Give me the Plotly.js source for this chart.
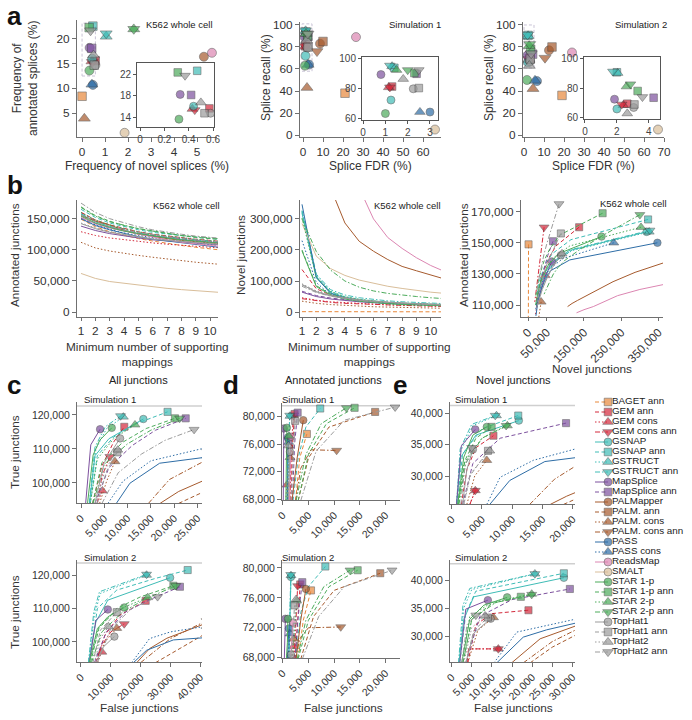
<!DOCTYPE html>
<html><head><meta charset="utf-8">
<script src="https://cdn.plot.ly/plotly-3.0.1.min.js"></script>
<style>html,body{margin:0;padding:0;background:#fff}#chart{width:692px;height:720px}</style>
</head><body><div id="chart"></div>
<script>
// ---------------- methods & styles ----------------
const methods = ["BAGET ann","GEM ann","GEM cons","GEM cons ann","GSNAP","GSNAP ann","GSTRUCT","GSTRUCT ann","MapSplice","MapSplice ann","PALMapper","PALM. ann","PALM. cons","PALM. cons ann","PASS","PASS cons","ReadsMap","SMALT","STAR 1-p","STAR 1-p ann","STAR 2-p","STAR 2-p ann","TopHat1","TopHat1 ann","TopHat2","TopHat2 ann"];
const methodColors = ["#e8883b","#d3293b","#d3293b","#d3293b","#3fbcb6","#3fbcb6","#3fbcb6","#3fbcb6","#7d519e","#7d519e","#a65a2d","#a65a2d","#a65a2d","#a65a2d","#2e6da6","#2e6da6","#dc86b2","#d9be9a","#4cab5b","#4cab5b","#4cab5b","#4cab5b","#9b9b9b","#9b9b9b","#9b9b9b","#9b9b9b"];
const methodSymbols = ["square","square","triangle-up","triangle-down","circle","square","triangle-up","triangle-down","circle","square","circle","square","triangle-up","triangle-down","circle","triangle-up","circle","circle","circle","square","triangle-up","triangle-down","circle","square","triangle-up","triangle-down"];
const methodDashes = ["dash","dash","dot","dashdot","solid","dash","dot","dashdot","solid","dash","solid","dash","dot","dashdot","solid","dot","solid","solid","solid","dash","dot","dashdot","solid","dash","dot","dashdot"];

// ---------------- panel a (percent) ----------------
const aK562Novel = [0.0,0.57,0.43,0.45,0.44,0.47,1.05,1.05,0.33,0.42,5.3,null,0.1,null,0.47,0.43,5.65,1.85,0.32,0.31,2.25,2.25,0.58,0.53,0.5,0.37];
const aK562Annot = [8.4,15.6,15.5,15.3,16.0,22.6,20.5,21.1,18.2,18.1,16.4,null,3.9,null,10.7,10.8,17.2,1.0,13.6,22.3,22.0,22.0,14.7,14.7,16.7,21.7];
const aSim1FDR    = [21,1.3,1.15,1.2,1.25,1.4,1.3,1.2,0.8,2.4,8.5,10,2,7,3.0,2.55,26.5,66,1.0,2.3,1.5,2.0,2.25,2.5,1.8,2.5];
const aSim1Recall = [38,81,80.5,80.5,72,93.5,94.5,95,89,89.5,83,85,43,76,64,64,89,5,63,90,92,92,79.5,80,86,92];
const aSim2FDR    = [19,2.65,2.4,2.3,2.0,2.0,2.05,1.75,1.85,4.3,12.5,14,4.5,10.5,6.5,5.5,24,67,1.5,3.3,2.6,2.85,3.05,3.1,2.65,3.6];
const aSim2Recall = [36,69.5,68.5,69,66,90.5,90,91,72.5,73.5,77,80,42,70,49,49.5,75,5,50,78,81,82.5,67,69,63,74];

// ---------------- panel b (thousands of junctions) ----------------
const bMinSupport = [1,2,3,4,5,6,7,8,9,10,11];
const bTickVals = [1,2,3,4,5,6,7,8,9,10];
const bAnnot = [
 [149,137,129,123,118,114,110,107,104,101,99],
 [160,148,140,134,129,125,122,119,117,115,113],
 [129,123,119,116,113,111,109,107,105,104,103],
 [160,147,139,133,128,124,121,118,116,114,112],
 [157,145,137,131,126,122,119,116,114,112,110],
 [165,152,143,137,132,128,125,122,120,118,116],
 [157,145,137,131,127,123,120,117,115,113,111],
 [158,146,138,132,127,123,120,118,116,114,112],
 [138,131,126,122,119,116,114,112,110,109,108],
 [151,142,135,130,126,123,120,117,115,113,111],
 [155,146,140,131,125,121,118,115,113,111,109],
 null,
 [112,103,98,94,91,88,85,82,80,78,76],
 null,
 [150,139,132,126,121,117,114,111,108,105,103],
 [150,140,133,127,123,119,116,113,110,108,106],
 [152,142,135,130,125,120,116,112,109,107,105],
 [62,54,49,46,43,41,38,36,34,32,31],
 [154,143,136,130,126,122,119,116,114,112,110],
 [169,155,146,139,134,130,126,123,120,118,116],
 [160,148,140,134,129,125,122,119,117,115,113],
 [168,154,145,139,134,130,126,123,121,119,117],
 [142,134,128,124,120,117,115,113,111,109,108],
 [156,145,138,132,128,124,121,118,116,114,112],
 [143,135,129,125,121,118,116,114,112,110,109],
 [175,160,150,143,137,132,128,125,122,120,118]
];
const bNovel = [
 [1.2,1.1,1.0,0.9,0.9,0.8,0.8,0.7,0.7,0.7,0.7],
 [137,75,55,45,38,33,30,27,25,23,22],
 [46,38,33,30,27,25,23,22,21,20,19],
 [43,36,31,28,26,24,22,21,20,19,18],
 [318,110,62,46,38,33,29,27,25,23,22],
 [322,115,65,48,40,34,30,28,26,24,23],
 [325,118,67,50,41,35,31,28,26,24,23],
 [327,122,72,55,46,40,36,33,30,28,27],
 [64,50,42,37,33,30,28,26,24,23,22],
 [67,53,45,39,35,32,29,27,26,24,23],
 [900,560,400,287,228,196,169,147,133,118,106],
 null,
 [35,28,24,21,19,17,16,15,14,13,12],
 null,
 [347,112,60,45,37,32,28,26,24,22,21],
 [230,95,55,42,35,30,27,25,23,21,20],
 [1500,1000,700,520,400,300,240,205,175,150,130],
 [285,180,140,118,103,92,83,76,69,64,60],
 [197,82,55,42,35,30,27,24,22,21,20],
 [200,85,58,44,37,32,28,26,24,22,21],
 [303,112,66,49,41,35,31,29,27,25,24],
 [300,195,135,100,80,68,60,54,50,46,43],
 [88,65,52,44,38,34,31,28,26,24,23],
 [88,66,53,45,39,35,31,29,27,25,24],
 [91,68,54,45,39,35,32,29,27,25,24],
 [83,63,51,43,37,33,30,28,26,24,23]
];

// ---------------- panels c, d, e (thousands; false vs true junctions) ----------------
const cSim1False = [null,[2.5,4.5,7,9.3],[3.5,4.6],[3.5,4.5,6.2],[1.8,3.0,6.0,13.4],[2.0,3.5,7,12,18.6],[1.9,3.2,5.5,9.1],[1.8,3.0,5.2,8.5],[1.0,2.1,4.1],[3,6,11,16,22.5],[17,21,27],[21,24,27],[4,5.5,7.3],[14.5,19,27],[7.6,10.5,16.9,27],[5.8,9,15,27],null,null,[1.4,2.6,4.0,6.6],[2.5,4.5,9,14,20.2],[2.0,3.5,7,11.6],[2.6,5,10,15,21.2],[3.0,5,8.4],[3.5,5.5,7.8],[3.2,5.2,7.9],[4.5,8,13,18,24.3]];
const cSim1True  = [null,[94,105,112,116.5],[94,97.7],[94,102,107.7],[94,108,113,118.8],[94,108,113.5,117.5,120.9],[94,110,116,119.4],[94,110.5,116.5,119.7],[94,111.2,115.8],[94,104.5,111,115.5,119],[94,97.5,101.1],[94,96,97.8],[94,100.5,106.3],[94,101,106.8],[94,99.9,105.8,107.6],[94,100.5,106.5,110.4],null,null,[94,108.2,112.5,116.2],[94,106,112,116,119],[94,107,113,117.1],[94,105.5,111.5,115.5,119],[94,106,113.1],[94,103.5,109],[94,104,109.7],[94,103,108.5,112.5,115.7]];
const cSim2False = [null,[5,8,13,21.7],[5.5,7],[5,7,10,14.5],[2.5,5.0,9.0,29.9],[2.8,5.5,12,25,35.8],[2.5,4.5,6.5,22],[2.5,4.3,6.2,22],[2.8,5.0,9.0],[4.5,8.5,15,24,33.2],[18.7,23,28.8,42],[25,32,42],[5.5,8,12],[20,30,42],[17.6,22,31,42],[17,23,30,42],null,null,[2.8,5.5,9,14.5],[3.2,6,12,20,31],[3,6,12,22.4],[3.5,7,14,22,31.8],[5,7.5,11.2],[4,6.5,12],[4.5,6.5,9.2],[5.5,10,17,25.7]];
const cSim2True  = [null,[93.8,102,108,112.3],[93.8,97],[93.8,99,103,105.4],[93.8,106,112.5,119.2],[93.8,110,115.5,119,121.5],[93.8,108,114.5,120],[93.8,109,115,120.2],[93.8,106.5,109.7],[93.8,103,109,113,116.5],[93.8,98,101.1,105.6],[93.8,97.5,102.6],[93.8,100,104.1],[93.8,101,106.3],[93.8,97.5,100.6,101.3],[93.8,101,103,104.7],null,null,[93.8,104,107.5,110.3],[93.8,104,110,113.5,116.8],[93.8,104.5,109.5,113.3],[93.8,103,109,113,116.8],[93.8,98.5,101.6],[93.8,103.5,108.9],[93.8,101,104.6],[93.8,104,110,113.5]];

const dSim1False = [[2.5,3.3,4.7],[1.6,1.9,2.3],[0.6,0.8],[1.4,1.7,2.1],[0.8,0.9,1.0],[2.0,3.0,4.5,7.3],[0.9,1.1,1.4],[0.9,1.1,1.35],[0.1,0.15,0.2],[1.9,2.3,2.9],[1.8,2.8,4.0],[3.0,5.0,9.0,18.0],[1.0,1.2,1.4],[2.5,3.5,5.5,10.5],[0.9,1.0,1.1],[0.9,1.0,1.15],[1.3,1.5,1.6],null,[0.6,0.7,0.8],[3.0,5.0,8.5,14.0],[0.9,1.0,1.2],[2.6,4.5,7.5,12.4],[1.1,1.3,1.4],[1.6,2.0,2.4],[1.0,1.1,1.1],[3.5,6.5,12.0,21.9]];
const dSim1True  = [[67.8,74,77.5],[67.8,76,80.4],[67.8,70.1],[67.8,76,80.2],[67.8,74,77.0],[67.8,74,78.5,81.2],[67.8,76,80.1],[67.8,76,80.2],[67.8,74,78.3],[67.8,76,80.6],[67.8,74,79.5],[67.8,74,78.5,80.7],[67.8,71,74.1],[67.8,72.5,75.2,75.1],[67.8,73,76.8],[67.8,72,76.3],[67.8,72,77.1],null,[67.8,74,78.4],[67.8,74.5,79,81.3],[67.8,73,77.2],[67.8,74.5,79,81.3],[67.8,71,74.9],[67.8,74,79.4],[67.8,72,75.8],[67.8,75,79.5,81.4]];
const dSim2False = [[3.0,4.0,5.5],[2.4,2.9,3.4],[1.8,2.1],[2.2,2.6,2.9],[1.2,1.4,1.6],[2.5,3.5,5.0,8.3],[1.2,1.4,1.6],[1.2,1.4,1.55],[0.3,0.4,0.5],[2.4,3.0,3.8],[2.6,3.5,4.5],[3.5,6.0,10.0,19.0],[1.6,1.9,2.1],[2.5,3.3,5.0,11.3],[0.9,1.1,1.2],[1.0,1.2,1.4],[1.5,1.8,2.0],null,[0.7,0.9,1.0],[3.0,5.0,9.0,14.6],[1.9,2.3,2.7],[2.8,4.5,8.0,13.1],[1.4,1.5,1.6],[1.6,2.0,2.3],[1.7,2.2,2.6],[3.8,7.0,12.0,21.3]];
const dSim2True  = [[67.8,73,77.0],[67.8,73.5,77.8],[67.8,69.5],[67.8,73,77.6],[67.8,74,78.8],[67.8,74,77.5,80.2],[67.8,74,79.0],[67.8,74,79.1],[67.8,70,73.2],[67.8,73.5,78.1],[67.8,73,77.2],[67.8,73.5,77,79.3],[67.8,69,70.5],[67.8,70.5,72.0,72.1],[67.8,70,71.9],[67.8,69.5,71.2],[67.8,70.5,72.7],null,[67.8,70,73.2],[67.8,73,77.5,79.7],[67.8,72,75.6],[67.8,73,77.5,79.7],[67.8,68.1,68.4],[67.8,71.5,75.0],[67.8,72,75.8],[67.8,73.5,77.5,79.7]];

const eSim1False = [null,[1.6,2.5,4.0,6.9],[3.0,3.9],[3.0,3.9],[0.8,1.5,4.0,11.1],[0.9,1.8,5.0,11.0],[0.8,1.5,3.5,7.4],[0.8,1.4,3.3,7.2],[0.8,1.6,3.9],[1.8,3.5,8.0,18.9],[16.3,19,22],[18.5,20,22],[2.5,3.8,5.8],[12.9,17,22],[6.3,9.6,15.4,22],[5.8,8.0,13.5,22],null,null,[1.0,2.0,3.5,5.8],[1.1,2.2,4.0,6.6],[1.0,2.0,5.0,9.2],[1.2,2.3,5.0,9.0],[1.8,2.5,3.5],[2.0,3.0,6.0],[2.0,3.2,6.3],[1.5,2.2,3.3]];
const eSim1True  = [null,[25.5,31,34.5,36.4],[25.5,27.7],[25.5,27.7],[25.5,33,36.5,38.8],[25.5,33.5,37.5,39.6],[25.5,34,38,39.6],[25.5,34.3,38.2,39.6],[25.5,34.8,37.4],[25.5,32,36,38.4],[25.5,26.8,28],[25.5,26.2,27],[25.5,30,32.5],[25.5,29.5,32.5],[25.5,29.3,32.3,33.1],[25.5,29.8,32.5,34.7],null,null,[25.5,33,36.5,37.8],[25.5,32.5,36,37.8],[25.5,32,36,38.0],[25.5,32,36,38.0],[25.5,31,34.2],[25.5,30,34.0],[25.5,30.5,34.0],[25.5,31.5,34.5]];
const eSim2False = [null,[4.0,6.0,10.0,19.1],[3.8,4.2,11.6],[3.8,4.2,11.6],[1.8,3.0,5.5,27.9],[2.0,3.5,6.0,27.9],[1.8,3.0,5.0,20.7],[1.7,2.8,4.5,20.7],[2.0,3.5,9.0],[3.5,7.0,15.0,29.4],[14.9,22,32],[19.5,25,32],[4.0,6.5,10.4],[17.8,25,32],[11.2,17.8,23.6,32],[10.5,16.2,32],null,null,[2.5,4.5,8.0,13.8],[2.8,5.0,10.0,17.2],[2.5,4.5,10.0,19.9],[2.8,5.0,11.0,19.9],[3.5,5.5,9.7],[3.5,5.5,9.0],[3.0,5.0,8.3],[2.5,3.8,6.0]];
const eSim2True  = [null,[25.2,32,34,34.6],[25.2,27.7,27.7],[25.2,27.7,27.7],[25.2,33,37,40.4],[25.2,34,38,41.2],[25.2,35,38.3,41.1],[25.2,35.5,38.5,41.1],[25.2,34.8,36.4],[25.2,33.5,36.5,38.4],[25.2,29.5,32.1],[25.2,28,30.6],[25.2,31,33.3],[25.2,29,31.5],[25.2,29.8,31.1,32.5],[25.2,30.7,33.2],null,null,[25.2,33,35.5,36.9],[25.2,33,35.8,37.0],[25.2,33.5,36,37.5],[25.2,33,36,37.4],[25.2,30.5,33.1],[25.2,31,33.3],[25.2,31.5,33.6],[25.2,32,33.7]];

// total true junctions in each simulation (thousands): grey reference lines
const totalTrue = {c1:122.6, c2:123.6, d1:81.6, d2:80.7, e1:41.2, e2:42.9};

// ---------------- tick labels ----------------
const b1TickVals = [0,50,100,150], b1TickText = ["0","50,000","100,000","150,000"];
const b2TickVals = [0,100,200,300], b2TickText = ["0","100,000","200,000","300,000"];
const b3XTickVals = [0,50,150,250,350], b3XTickText = ["0","50,000","150,000","250,000","350,000"];
const b3YTickVals = [110,130,150,170], b3YTickText = ["110,000","130,000","150,000","170,000"];
const cYTickVals = [100,110,120], cYTickText = ["100,000","110,000","120,000"];
const c1XTickVals = [0,5,10,15,20,25], c1XTickText = ["0","5,000","10,000","15,000","20,000","25,000"];
const c2XTickVals = [0,10,20,30,40], c2XTickText = ["0","10,000","20,000","30,000","40,000"];
const dYTickVals = [68,72,76,80], dYTickText = ["68,000","72,000","76,000","80,000"];
const dXTickVals = [0,5,10,15,20], dXTickText = ["0","5,000","10,000","15,000","20,000"];
const eYTickVals = [30,35,40], eYTickText = ["30,000","35,000","40,000"];
const e1XTickVals = [0,5,10,15,20], e1XTickText = ["0","5,000","10,000","15,000","20,000"];
const e2XTickVals = [0,5,10,15,20,25,30], e2XTickText = ["0","5,000","10,000","15,000","20,000","25,000","30,000"];

// ---------------- helpers ----------------
const FONT = '"Liberation Sans", Arial, Helvetica, sans-serif';
const W = 692, H = 720;
const pxD = (a,b)=>[a/W, b/W];
const pyD = (a,b)=>[1-b/H, 1-a/H];
const DASH = {solid:'solid', dash:'4px,2.5px', dot:'1.5px,2px', dashdot:'5px,2px,1.5px,2px'};
const AXC = '#707070';
const sfx = n => n===1 ? '' : String(n);
const symSize = (b,s) => s.indexOf('triangle')===0 ? b*1.15 : (s==='square' ? b*0.95 : b);

const traces = [], shapes = [], annotations = [];
const layout = {width:W, height:H, margin:{l:0,r:0,t:0,b:0}, paper_bgcolor:'#fff', plot_bgcolor:'rgba(0,0,0,0)',
  showlegend:false, font:{family:FONT, size:12, color:'#333'}, shapes:shapes, annotations:annotations};

function baseAxis(o){
  return Object.assign({showgrid:false, zeroline:false, showline:true, linecolor:AXC, linewidth:1,
    ticks:'outside', ticklen:4, tickwidth:1, tickcolor:AXC, tickfont:{family:FONT,size:11.8,color:'#333'}, fixedrange:true}, o);
}
function setAxes(n, xo, yo){
  layout['xaxis'+sfx(n)] = baseAxis(Object.assign({anchor:'y'+sfx(n)}, xo));
  layout['yaxis'+sfx(n)] = baseAxis(Object.assign({anchor:'x'+sfx(n)}, yo));
}

function scatterPanel(n, xs, ys, size){
  const idx = methods.map((m,i)=>i).filter(i=>xs[i]!==null && ys[i]!==null);
  traces.push({type:'scatter', mode:'markers', xaxis:'x'+sfx(n), yaxis:'y'+sfx(n),
    x: idx.map(i=>xs[i]), y: idx.map(i=>ys[i]),
    marker:{color: idx.map(i=>methodColors[i]), symbol: idx.map(i=>methodSymbols[i]),
      size: idx.map(i=>symSize(size, methodSymbols[i])), line:{color:'#333', width:0.6}},
    hoverinfo:'skip'});
}
function addCurve(n, x, y, i, markIdx, msize){
  const t = {type:'scatter', xaxis:'x'+sfx(n), yaxis:'y'+sfx(n), x:x, y:y, hoverinfo:'skip',
    line:{color:methodColors[i], width:1, dash:DASH[methodDashes[i]]}};
  if (markIdx === null) { t.mode = 'lines'; }
  else {
    const mi = markIdx < 0 ? x.length-1 : markIdx;
    t.mode = 'lines+markers';
    t.marker = {symbol:methodSymbols[i], color:methodColors[i],
      size: x.map((v,k)=> k===mi ? symSize(msize, methodSymbols[i]) : 0),
      line:{color:'#333', width: x.map((v,k)=> k===mi ? 0.6 : 0)}};
  }
  traces.push(t);
}
function curvePanel(n, xs, ys){
  methods.forEach((m,i)=>{ if (xs[i] && ys[i]) addCurve(n, xs[i], ys[i], i, -1, 7.5); });
}
function note(text, x, y, xanchor, size, extra){
  annotations.push(Object.assign({text:text, xref:'paper', yref:'paper', x:x/W, y:1-y/H, xanchor:xanchor, yanchor:'middle',
    showarrow:false, font:{family:FONT, size:size, color:'#222'}}, extra||{}));
}
function axTitle(text, x, y, vertical, size){
  annotations.push({text:text, xref:'paper', yref:'paper', x:x/W, y:1-y/H, xanchor:'center', yanchor:'middle',
    showarrow:false, textangle: vertical ? -90 : 0, font:{family:FONT, size:size||12, color:'#333'}});
}

// ---------------- panel a ----------------
const insetAx = (o) => Object.assign({mirror:true, linecolor:'#555', tickcolor:'#555', ticklen:3, tickfont:{family:FONT,size:10,color:'#444'}}, o);
setAxes(1, {domain:pxD(77,217), range:[-0.22,5.87], tickvals:[0,1,2,3,4,5]},
           {domain:pyD(20,137), range:[0.15,23.84], tickvals:[5,10,15,20]});
setAxes(2, insetAx({domain:pxD(137,214), range:[-0.025,0.608], tickvals:[0,0.2,0.4,0.6], ticktext:['0','0.2','0.4','0.6']}),
           insetAx({domain:pyD(63,127), range:[12.14,24.05], tickvals:[14,18,22]}));
setAxes(3, {domain:pxD(300,441), range:[-1.5,69], tickvals:[0,10,20,30,40,50,60]},
           {domain:pyD(22,137), range:[-1.8,102.7], tickvals:[0,20,40,60,80,100]});
setAxes(4, insetAx({domain:pxD(362,438), range:[-0.05,3.36], tickvals:[0,1,2,3]}),
           insetAx({domain:pyD(57,120), range:[58.7,100.7], tickvals:[60,80,100]}));
setAxes(5, {domain:pxD(523,664), range:[-0.5,70], tickvals:[0,10,20,30,40,50,60,70]},
           {domain:pyD(22,137), range:[-1.8,102.7], tickvals:[0,20,40,60,80,100]});
setAxes(6, insetAx({domain:pxD(584,660), range:[-0.06,4.7], tickvals:[0,2,4]}),
           insetAx({domain:pyD(57,119), range:[59.3,100.7], tickvals:[60,80,100]}));
const rectLine = {color:'#c9c3d6', width:1, dash:'3px,2px'};
shapes.push({type:'rect', xref:'x', yref:'y', x0:0.0, x1:0.58, y0:12.5, y1:23.2, line:rectLine, layer:'below'});
shapes.push({type:'rect', xref:'x3', yref:'y3', x0:-0.5, x1:4.5, y0:58, y1:101, line:rectLine, layer:'below'});
shapes.push({type:'rect', xref:'x5', yref:'y5', x0:0, x1:5, y0:61, y1:100, line:rectLine, layer:'below'});
scatterPanel(1, aK562Novel, aK562Annot, 9);
scatterPanel(2, aK562Novel, aK562Annot, 8);
scatterPanel(3, aSim1FDR, aSim1Recall, 9);
scatterPanel(4, aSim1FDR, aSim1Recall, 8);
scatterPanel(5, aSim2FDR, aSim2Recall, 9);
scatterPanel(6, aSim2FDR, aSim2Recall, 8);
axTitle('Frequency of novel splices (%)', 147, 166, false);
axTitle('Frequency of<br>annotated splices (%)', 25, 79, true);
axTitle('Splice FDR (%)', 370, 166, false);
axTitle('Splice recall (%)', 266, 78, true);
axTitle('Splice FDR (%)', 593, 166, false);
axTitle('Splice recall (%)', 489, 78, true);

// ---------------- panel b ----------------
setAxes(7, {domain:pxD(77,218), range:[0.72,10.55], tickvals:bTickVals, ticklen:3},
           {domain:pyD(200,317), range:[-8,180], tickvals:b1TickVals, ticktext:b1TickText});
setAxes(8, {domain:pxD(300,441), range:[0.86,10.72], tickvals:bTickVals, ticklen:3},
           {domain:pyD(200,317), range:[-16,361], tickvals:b2TickVals, ticktext:b2TickText});
setAxes(9, {domain:pxD(521,663), range:[-19,362], tickvals:b3XTickVals, ticktext:b3XTickText, tickangle:-45, ticklen:3},
           {domain:pyD(200,317), range:[102.3,177.5], tickvals:b3YTickVals, ticktext:b3YTickText});
methods.forEach((m,i)=>{ if (bAnnot[i]) addCurve(7, bMinSupport, bAnnot[i], i, null); });
methods.forEach((m,i)=>{ if (bNovel[i]) addCurve(8, bMinSupport, bNovel[i], i, null); });
methods.forEach((m,i)=>{ if (bNovel[i] && bAnnot[i]) addCurve(9, bNovel[i], bAnnot[i], i, 0, 7.5); });
axTitle('Minimum number of supporting<br>mappings', 147, 354, false, 11.8);
axTitle('Annotated junctions', 15, 255, true, 11.8);
axTitle('Minimum number of supporting<br>mappings', 369, 354, false, 11.8);
axTitle('Novel junctions', 241, 255, true, 11.8);
axTitle('Novel junctions', 592, 369, false, 11.8);
axTitle('Annotated junctions', 464, 255, true, 11.8);

// ---------------- panels c, d, e ----------------
const small = {family:FONT, size:10.5, color:'#333'};
setAxes(10, {domain:pxD(77,202), range:[-0.86,26.0], tickvals:c1XTickVals, ticktext:c1XTickText, tickangle:-45, tickfont:small},
            {domain:pyD(402,503), range:[94.1,123.8], tickvals:cYTickVals, ticktext:cYTickText, tickfont:small});
setAxes(11, {domain:pxD(77,202), range:[-1.34,40.6], tickvals:c2XTickVals, ticktext:c2XTickText, tickangle:-45, tickfont:small},
            {domain:pyD(560,662), range:[94.0,124.5], tickvals:cYTickVals, ticktext:cYTickText, tickfont:small});
setAxes(12, {domain:pxD(282,400), range:[-0.15,22.85], tickvals:dXTickVals, ticktext:dXTickText, tickangle:-45, tickfont:small},
            {domain:pyD(403,500), range:[67.9,82.0], tickvals:dYTickVals, ticktext:dYTickText, tickfont:small});
setAxes(13, {domain:pxD(282,400), range:[-0.15,22.85], tickvals:dXTickVals, ticktext:dXTickText, tickangle:-45, tickfont:small},
            {domain:pyD(560,658), range:[67.95,81.07], tickvals:dYTickVals, ticktext:dYTickText, tickfont:small});
setAxes(14, {domain:pxD(450,575), range:[-0.28,20.38], tickvals:e1XTickVals, ticktext:e1XTickText, tickangle:-45, tickfont:small},
            {domain:pyD(402,504), range:[25.56,41.75], tickvals:eYTickVals, ticktext:eYTickText, tickfont:small});
setAxes(15, {domain:pxD(450,575), range:[-0.42,30.67], tickvals:e2XTickVals, ticktext:e2XTickText, tickangle:-45, tickfont:small},
            {domain:pyD(560,662), range:[25.36,43.57], tickvals:eYTickVals, ticktext:eYTickText, tickfont:small});
[[10,'c1'],[11,'c2'],[12,'d1'],[13,'d2'],[14,'e1'],[15,'e2']].forEach(([n,k])=>{
  shapes.push({type:'line', xref:'x'+n+' domain', yref:'y'+n, x0:0, x1:1, y0:totalTrue[k], y1:totalTrue[k], line:{color:'#cfcfcf', width:1.5}, layer:'below'});
});
curvePanel(10, cSim1False, cSim1True);
curvePanel(11, cSim2False, cSim2True);
curvePanel(12, dSim1False, dSim1True);
curvePanel(13, dSim2False, dSim2True);
curvePanel(14, eSim1False, eSim1True);
curvePanel(15, eSim2False, eSim2True);
axTitle('True junctions', 15, 452, true, 11.8);
axTitle('True junctions', 15, 612, true, 11.8);
axTitle('False junctions', 139, 708, false, 11.8);
axTitle('False junctions', 343, 708, false, 11.8);
axTitle('False junctions', 513, 708, false, 11.8);

// ---------------- legend (drawn on a hidden axis) ----------------
setAxes(16, {domain:pxD(592,690), range:[0,98], visible:false}, {domain:pyD(397,657), range:[25.5,-0.5], visible:false});
methods.forEach((m,i)=>{
  traces.push({type:'scatter', mode:'lines+markers', xaxis:'x16', yaxis:'y16', x:[3,16], y:[i,i], hoverinfo:'skip',
    line:{color:methodColors[i], width:1, dash:DASH[methodDashes[i]]},
    marker:{symbol:methodSymbols[i], color:methodColors[i], size:[0, symSize(8, methodSymbols[i])], line:{color:'#333', width:[0,0.6]}}});
});
traces.push({type:'scatter', mode:'text', xaxis:'x16', yaxis:'y16', x:methods.map(()=>20), y:methods.map((m,i)=>i),
  text:methods, textposition:'middle right', textfont:{family:FONT, size:9.8, color:'#222'}, hoverinfo:'skip'});

// ---------------- text annotations ----------------
const L = {family:FONT, size:26, color:'#111'};
[['a',5,16],['b',5,185],['c',5,385],['d',221,385],['e',391,385]].forEach(([t,x,y])=>{
  annotations.push({text:'<b>'+t+'</b>', xref:'paper', yref:'paper', x:x/W, y:1-y/H, xanchor:'left', yanchor:'middle', showarrow:false, font:L});
});
note('K562 whole cell', 215, 25, 'right', 9.5);
note('Simulation 1', 443, 25, 'right', 9.5);
note('Simulation 2', 669, 25, 'right', 9.5);
note('K562 whole cell', 222, 205, 'right', 9.5);
note('K562 whole cell', 443, 205, 'right', 9.5);
note('K562 whole cell', 669, 203, 'right', 9.5);
note('All junctions', 138, 380, 'center', 11);
note('Annotated junctions', 333, 380, 'center', 11);
note('Novel junctions', 513, 380, 'center', 11);
[[82,399,'Simulation 1'],[82,557,'Simulation 2'],[280,399,'Simulation 1'],[280,557,'Simulation 2'],[453,399,'Simulation 1'],[453,557,'Simulation 2']].forEach(([x,y,t])=>note(t,x,y,'left',9.5));

Plotly.newPlot('chart', traces, layout, {displayModeBar:false, staticPlot:true});
</script></body></html>
